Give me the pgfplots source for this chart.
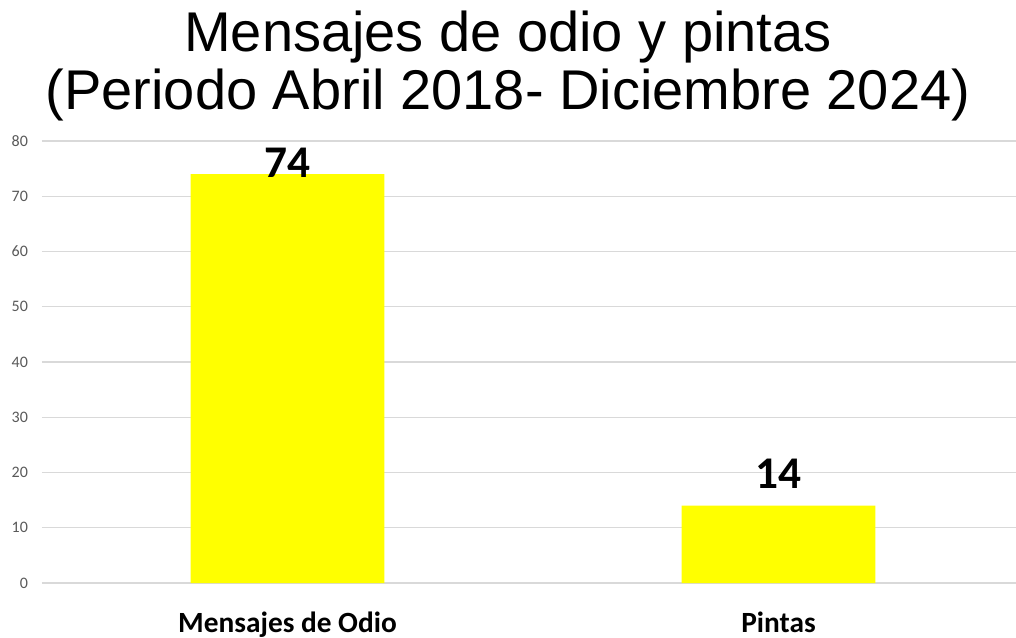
\documentclass[border=0pt]{standalone}
\usepackage{pgfplots}
\pgfplotsset{compat=1.18}
\usepackage{fontspec}
\setmainfont{Carlito}
\newfontfamily\arialfont{Liberation Sans}
\definecolor{barYellow}{HTML}{FFFF00}
\definecolor{gridGrey}{HTML}{D9D9D9}
\definecolor{tickGrey}{HTML}{595959}

\begin{document}
\begin{tikzpicture}
    % page size = 1016x638 px at 0.75pt/px, plot origin at (42px,583px)
    \useasboundingbox (-31.5pt,-41.25pt) rectangle (730.5pt,437.25pt);

    \begin{axis}[
        scale only axis,
        width=736.5pt, height=331.5pt,
        ybar, bar width=0.395,
        xmin=-0.5, xmax=1.5,
        ymin=0, ymax=80,
        ytick={0,10,...,80},
        xtick={0,1},
        xticklabels={Mensajes de Odio,Pintas},
        axis line style={draw=none},
        major tick length=0pt,
        ymajorgrids,
        grid style={gridGrey, line width=0.9pt},
        yticklabel style={font=\fontsize{12}{14}\selectfont, text=tickGrey, anchor=east, xshift=-7pt},
        xticklabel style={font=\fontsize{22}{26}\selectfont\bfseries, anchor=base, yshift=-36.75pt},
        /pgf/number format/assume math mode=true,
        clip=false,
    ]
        \addplot[fill=barYellow, draw=none] coordinates {(0,74) (1,14)};

        \node[font=\fontsize{34}{40}\selectfont\bfseries, yshift=8.6pt] at (axis cs:0,74) {74};
        \node[font=\fontsize{34}{40}\selectfont\bfseries, yshift=24pt] at (axis cs:1,14) {14};
    \end{axis}

    \node[font=\arialfont\fontsize{42}{44}\selectfont, anchor=base] at (349.5pt,398.25pt)
        {Mensajes de odio y pintas};
    \node[font=\arialfont\fontsize{42}{44}\selectfont, anchor=base] at (349.5pt,354.75pt)
        {(Periodo Abril 2018- Diciembre 2024)};
\end{tikzpicture}
\end{document}
